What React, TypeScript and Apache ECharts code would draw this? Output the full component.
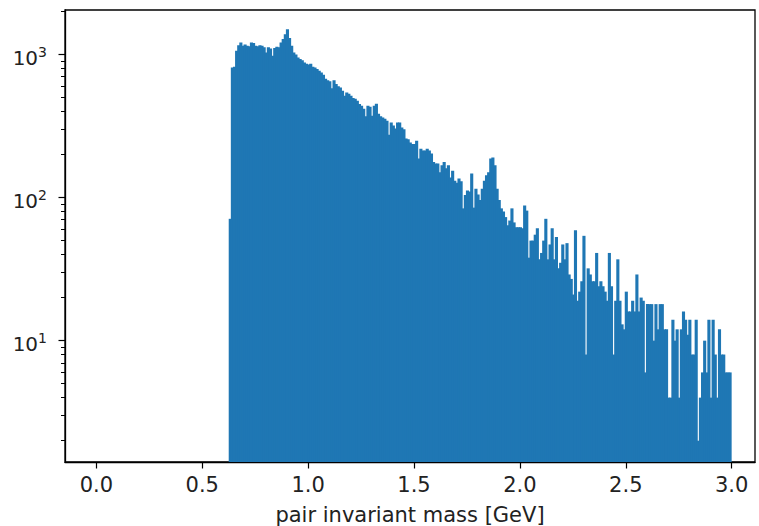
import React, { useEffect, useRef } from "react";
import * as echarts from "echarts";

// Histogram: bins of width BIN_WIDTH starting at BIN_START (GeV)
const BIN_START = 0.625;
const BIN_WIDTH = 0.01;
const counts = [
  71, 810, 820, 1060, 1160, 1210, 1150, 1170, 1150, 1140,
  1210, 1200, 1150, 1140, 1160, 1150, 1120, 1030, 1120, 1100,
  980, 1110, 1130, 1120, 1210, 1280, 1380, 1500, 1300, 1150,
  1030, 1000, 950, 930, 910, 876, 860, 850, 860, 820,
  810, 790, 770, 747, 720, 675, 660, 650, 580, 660,
  620, 600, 587, 557, 513, 541, 530, 513, 495, 490,
  474, 450, 438, 417, 370, 438, 430, 373, 438, 452,
  385, 370, 363, 355, 344, 275, 334, 318, 303, 334,
  334, 309, 300, 258, 255, 242, 237, 237, 249, 187,
  219, 213, 213, 219, 213, 203, 177, 173, 173, 150,
  168, 177, 160, 168, 138, 154, 131, 127, 136, 130,
  84, 104, 112, 110, 147, 85, 115, 105, 96, 115,
  131, 143, 150, 187, 190, 168, 115, 96, 84, 80,
  73, 64, 69, 84, 67, 62, 62, 62, 61, 88,
  81, 38, 50, 50, 55, 61, 37, 41, 50, 71,
  37, 47, 61, 37, 53, 32, 35, 47, 37, 48,
  29, 27, 21, 59, 19, 22, 26, 54, 8, 32,
  29, 26, 26, 41, 24, 26, 24, 22, 19, 41,
  24, 8, 19, 37, 19, 13, 12, 22, 16, 16,
  19, 16, 29, 16, 20, 19, 6, 18, 18, 18,
  10, 18, 12, 18, 18, 12, 12, 4, 4, 14,
  10, 12, 4, 12, 16, 14, 11, 14, 8, 8,
  14, 2, 4, 6, 10, 6, 14, 4, 14, 8,
  4, 12, 8, 8, 6, 6, 6,
];

const xTicks = [0, 0.5, 1.0, 1.5, 2.0, 2.5, 3.0];
const yMajorTicks = [10, 100, 1000];
const yMinorTicks = [
  2, 3, 4, 5, 6, 7, 8, 9,
  20, 30, 40, 50, 60, 70, 80, 90,
  200, 300, 400, 500, 600, 700, 800, 900, 2000,
];

const X_MIN = -0.148;
const X_MAX = 3.11;
const Y_MIN = 1.42;
const Y_MAX = 2042;

const FONT = "DejaVu Sans";
const TXT = "#222";
const BAR = "#1f77b4";

export default function App() {
  const ref = useRef<HTMLDivElement>(null);

  useEffect(() => {
    if (!ref.current) return;
    const chart = echarts.init(ref.current, null, { renderer: "svg" });
    const data = counts.map((c, i) => {
      const x0 = BIN_START + i * BIN_WIDTH;
      return [x0, x0 + BIN_WIDTH, c];
    });
    chart.setOption({
      animation: false,
      backgroundColor: "#fff",
      grid: {
        left: 65,
        right: 4,
        top: 10,
        bottom: 64,
        containLabel: false,
        outerBoundsMode: "none",
        show: true,
        borderColor: "#000",
        borderWidth: 1.3,
        backgroundColor: "transparent",
      },
      xAxis: {
        type: "value",
        min: X_MIN,
        max: X_MAX,
        splitLine: { show: false },
        axisLine: { show: true, onZero: false, lineStyle: { color: "#000", width: 1.3 } },
        axisTick: {
          show: true,
          customValues: xTicks,
          length: 6.5,
          lineStyle: { color: "#000", width: 1.2 },
        },
        axisLabel: {
          customValues: xTicks,
          formatter: (v: number) => v.toFixed(1),
          fontFamily: FONT,
          fontSize: 21,
          color: TXT,
          margin: 12,
        },
        name: "pair invariant mass [GeV]",
        nameLocation: "middle",
        nameGap: 42,
        nameTextStyle: { fontFamily: FONT, fontSize: 21, color: TXT },
      },
      yAxis: [
        {
          type: "log",
          logBase: 10,
          min: Y_MIN,
          max: Y_MAX,
          splitLine: { show: false },
          axisLine: { show: true, onZero: false, lineStyle: { color: "#000", width: 1.3 } },
          axisTick: {
            show: true,
            customValues: yMajorTicks,
            length: 6.5,
            lineStyle: { color: "#000", width: 1.2 },
          },
          axisLabel: {
            customValues: yMajorTicks,
            margin: 18,
            padding: [7, 0, 0, 0],
            formatter: (v: number) => {
              const e = Math.round(Math.log10(v));
              return "{b|10}{s|" + e + "}";
            },
            rich: {
              b: { fontFamily: FONT, fontSize: 20, lineHeight: 26, color: TXT },
              s: { fontFamily: FONT, fontSize: 14, lineHeight: 14, verticalAlign: "top", color: TXT },
            },
          },
        },
        {
          type: "log",
          logBase: 10,
          min: Y_MIN,
          max: Y_MAX,
          position: "left",
          offset: 0,
          splitLine: { show: false },
          axisLine: { show: false, onZero: false },
          axisLabel: { show: false },
          axisTick: {
            show: true,
            customValues: yMinorTicks,
            length: 4,
            lineStyle: { color: "#000", width: 1 },
          },
        },
      ],
      series: [
        {
          type: "custom",
          xAxisIndex: 0,
          yAxisIndex: 0,
          data,
          encode: { x: [0, 1], y: 2 },
          renderItem: (params: any, api: any) => {
            const x0 = api.value(0);
            const x1 = api.value(1);
            const c = api.value(2);
            const pTop = api.coord([x0, c]);
            const pBot = api.coord([x1, Y_MIN]);
            return {
              type: "rect",
              shape: {
                x: pTop[0],
                y: pTop[1],
                width: pBot[0] - pTop[0] + 1,
                height: pBot[1] - pTop[1],
              },
              style: { fill: BAR },
            };
          },
        },
      ],
    });
    return () => chart.dispose();
  }, []);

  return (
    <div
      ref={ref}
      style={{ position: "fixed", left: 0, top: 0, width: 759, height: 526, background: "#fff" }}
    />
  );
}
